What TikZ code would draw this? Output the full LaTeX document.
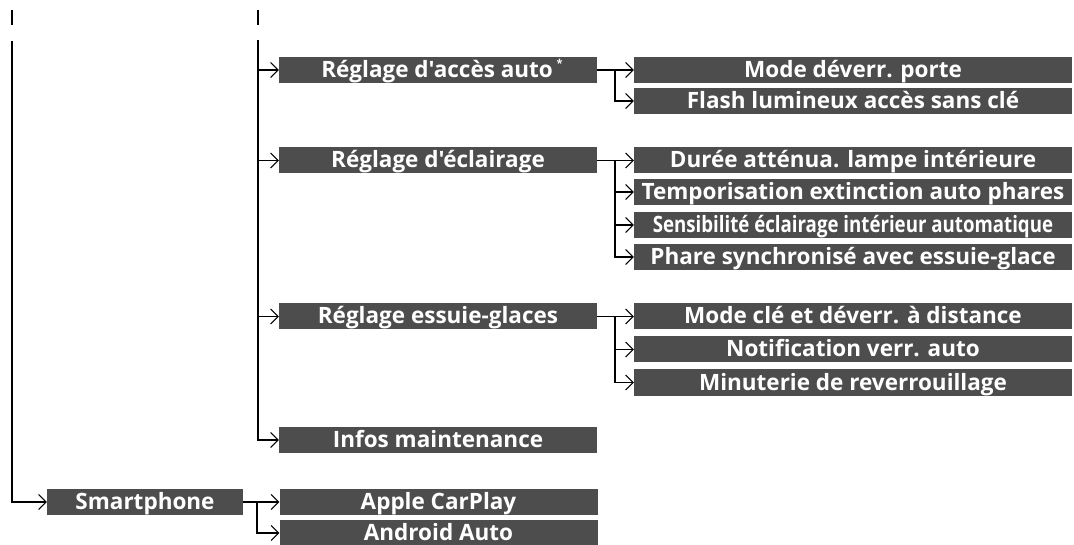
\documentclass[tikz,border=0pt]{standalone}
\usepackage{fontspec}
\setmainfont{Open Sans}[Ligatures=TeXOff]
\usetikzlibrary{arrows.meta,calc}
\definecolor{boxgray}{HTML}{4D4D4D}
\tikzset{
  menubox/.style={rectangle, fill=boxgray, text=white, inner sep=0pt,
    minimum height=26pt, font=\fontsize{22.5}{24}\selectfont\bfseries,
    text height=17.5pt, text depth=2.5pt},
  lvtwo/.style={menubox, minimum width=318pt},
  lvthree/.style={menubox, minimum width=438pt},
  arr/.style={-{Straight Barb[length=7.5pt,width=15pt,line width=1pt]}, line width=1.9pt},
  plain/.style={line width=1.9pt}
}
\begin{document}
\begin{tikzpicture}[x=1pt,y=-1pt]
\useasboundingbox (0,0) rectangle (1074,545);
% top ticks
\coordinate (t1a) at (12,10); \coordinate (t1b) at (12,25);
\coordinate (t2a) at (258,10); \coordinate (t2b) at (258,25);
\draw[plain] (t1a) -- (t1b);
\draw[plain] (t2a) -- (t2b);
\coordinate (c1top) at (12,41);
\coordinate (c2top) at (258,40);
% level 2
\node[lvtwo] (acces) at (438,70) {\hspace*{8pt}Réglage d'accès auto\,\raisebox{0.45em}{\fontsize{11}{11}\selectfont *}};
\node[lvtwo] (eclair) at (438,160.5) {Réglage d'éclairage};
\node[lvtwo] (essuie) at (438,316.5) {Réglage essuie-glaces};
\node[lvtwo] (infos) at (438,440) {Infos maintenance};
\node[menubox, minimum width=196pt] (smart) at (145,502) {Smartphone};
\node[lvtwo] (apple) at (438.5,502) {Apple CarPlay};
\node[lvtwo] (android) at (438.5,533) {Android Auto};
% level 3
\node[lvthree] (mode) at (853,70) {Mode déverr. porte};
\node[lvthree] (flash) at (853,101) {Flash lumineux accès sans clé};
\node[lvthree] (duree) at (853,160.5) {Durée atténua. lampe intérieure};
\node[lvthree] (tempo) at (853,192) {Temporisation extinction auto phares};
\node[lvthree] (sens) at (853,225) {\scalebox{0.83}[1]{Sensibilité éclairage intérieur automatique}};
\node[lvthree] (phare) at (853,257) {Phare synchronisé avec essuie-glace};
\node[lvthree] (modecle) at (853,316.5) {Mode clé et déverr. à distance};
\node[lvthree] (notif) at (853,349.5) {Notification verr. auto};
\node[lvthree] (minut) at (853,382.5) {Minuterie de reverrouillage};
% column 1
\draw[arr] (c1top) |- (smart.west);
% column 2
\draw[arr] (c2top) |- (infos.west);
\draw[arr] (c2top |- acces.west) -- (acces.west);
\draw[arr] (c2top |- eclair.west) -- (eclair.west);
\draw[arr] (c2top |- essuie.west) -- (essuie.west);
% branches
\coordinate (b1) at ($(acces.east)+(18,0)$);
\draw[arr] (acces.east) -- (mode.west);
\draw[arr] (b1) |- (flash.west);
\coordinate (b2) at ($(eclair.east)+(18,0)$);
\draw[arr] (eclair.east) -- (duree.west);
\draw[arr] (b2) |- (tempo.west);
\draw[arr] (b2) |- (sens.west);
\draw[arr] (b2) |- (phare.west);
\coordinate (b3) at ($(essuie.east)+(18,0)$);
\draw[arr] (essuie.east) -- (modecle.west);
\draw[arr] (b3) |- (notif.west);
\draw[arr] (b3) |- (minut.west);
\coordinate (b4) at ($(smart.east)+(14,0)$);
\draw[arr] (smart.east) -- (apple.west);
\draw[arr] (b4) |- (android.west);
\end{tikzpicture}
\end{document}
